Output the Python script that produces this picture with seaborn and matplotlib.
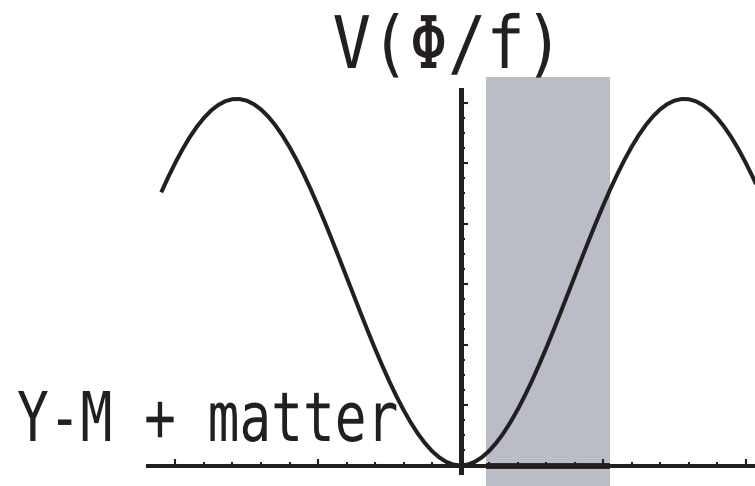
import numpy as np
import matplotlib
matplotlib.use("Agg")
import matplotlib.pyplot as plt
import seaborn as sns
from matplotlib.patheffects import AbstractPathEffect
from matplotlib.transforms import Affine2D
from matplotlib.ticker import FixedLocator, NullFormatter

# ---- data ----
phi = [-2.10, -2.05, -2.00, -1.95, -1.90, -1.85, -1.80, -1.75, -1.70, -1.65,
       -1.60, -1.55, -1.50, -1.45, -1.40, -1.35, -1.30, -1.25, -1.20, -1.15,
       -1.10, -1.05, -1.00, -0.95, -0.90, -0.85, -0.80, -0.75, -0.70, -0.65,
       -0.60, -0.55, -0.50, -0.45, -0.40, -0.35, -0.30, -0.25, -0.20, -0.15,
       -0.10, -0.05, 0.00, 0.05, 0.10, 0.15, 0.20, 0.25, 0.30, 0.35,
       0.40, 0.45, 0.50, 0.55, 0.60, 0.65, 0.70, 0.75, 0.80, 0.85,
       0.90, 0.95, 1.00, 1.05, 1.10, 1.15, 1.20, 1.25, 1.30, 1.35,
       1.40, 1.45, 1.50, 1.55, 1.60, 1.65, 1.70, 1.75, 1.80, 1.85,
       1.90, 1.95, 2.00, 2.05, 2.10, 2.15, 2.20]
V = [4.515, 4.772, 5.010, 5.230, 5.427, 5.600, 5.747, 5.868, 5.959, 6.022,
     6.055, 6.057, 6.030, 5.972, 5.885, 5.769, 5.626, 5.457, 5.264, 5.049,
     4.813, 4.560, 4.291, 4.010, 3.718, 3.420, 3.118, 2.816, 2.515, 2.219,
     1.932, 1.656, 1.393, 1.147, 0.919, 0.713, 0.529, 0.371, 0.239, 0.135,
     0.060, 0.015, 0.000, 0.015, 0.060, 0.135, 0.239, 0.371, 0.529, 0.713,
     0.919, 1.147, 1.393, 1.656, 1.932, 2.219, 2.515, 2.816, 3.118, 3.420,
     3.718, 4.010, 4.291, 4.560, 4.813, 5.049, 5.264, 5.457, 5.626, 5.769,
     5.885, 5.972, 6.030, 6.057, 6.055, 6.022, 5.959, 5.868, 5.747, 5.600,
     5.427, 5.230, 5.010, 4.772, 4.515, 4.244, 3.961]
band_lo, band_hi = 0.177, 1.049
band_top = 6.42
title_text = "V(Φ/f)"
label_text = "Y-M + matter"

INK = "#231f20"
BAND = "#babdc5"


class VStretch(AbstractPathEffect):
    """Stretch glyphs vertically about the baseline (condensed look)."""
    def __init__(self, sy):
        super().__init__()
        self.sy = sy

    def draw_path(self, renderer, gc, tpath, affine, rgbFace=None):
        renderer.draw_path(gc, tpath, Affine2D().scale(1.0, self.sy) + affine, rgbFace)


sns.set_theme(style="white")
plt.rcParams["font.family"] = ["DejaVu Sans Mono", "DejaVu Sans"]

fig = plt.figure(figsize=(7.55, 4.86), dpi=100)
ax = fig.add_axes([0, 0, 1, 1])
ax.set_facecolor("none")

# axis scaling (px: x = 460.5 + 142.5*u ; y = 465.5 - 60.5*v)
ax.set_xlim(-460.5 / 142.5, (755 - 460.5) / 142.5)
ax.set_ylim(-20.5 / 60.5, 465.5 / 60.5)

# shaded band
ax.fill_betweenx([-1.0, band_top], band_lo, band_hi, color=BAND, lw=0, zorder=0.5)

# curve
sns.lineplot(x=phi, y=V, ax=ax, color=INK, lw=2.9, zorder=3, sort=False,
             solid_joinstyle="round", solid_capstyle="butt")

# thick axis segment inside the band
ax.plot([band_lo, band_hi], [0, 0], color=INK, lw=4.2, solid_capstyle="butt", zorder=2.7)

# axes through the origin
for s in ("top", "right"):
    ax.spines[s].set_visible(False)
ax.spines["left"].set_position(("data", 0))
ax.spines["bottom"].set_position(("data", 0))
ax.spines["left"].set_bounds(-0.10, 6.21)
ax.spines["bottom"].set_bounds(-2.19, 3.0)
ax.spines["left"].set_linewidth(3.6)
ax.spines["bottom"].set_linewidth(2.9)
ax.spines["left"].set_color(INK)
ax.spines["bottom"].set_color(INK)
ax.spines["left"].set_zorder(2.6)
ax.spines["bottom"].set_zorder(2.6)

xmaj = [-2, -1, 0, 1, 2]
xmin = [round(v, 1) for v in np.arange(-1.8, 2.01, 0.2) if abs(v - round(v)) > 1e-6]
ymaj = [1, 2, 3, 4, 5, 6]
ymin = [v for v in np.arange(0.25, 6.0, 0.25) if abs(v - round(v)) > 1e-6]
ax.xaxis.set_major_locator(FixedLocator(xmaj))
ax.xaxis.set_minor_locator(FixedLocator(xmin))
ax.yaxis.set_major_locator(FixedLocator(ymaj))
ax.yaxis.set_minor_locator(FixedLocator(ymin))
ax.xaxis.set_major_formatter(NullFormatter())
ax.yaxis.set_major_formatter(NullFormatter())
ax.tick_params(axis="x", which="major", direction="in", length=5.0, width=1.5,
               color=INK, bottom=True, top=False, labelbottom=False)
ax.tick_params(axis="x", which="minor", direction="in", length=2.9, width=1.5,
               color=INK, bottom=True, top=False)
ax.tick_params(axis="y", which="major", direction="in", length=4.7, width=1.5,
               color=INK, left=True, right=False, labelleft=False)
ax.tick_params(axis="y", which="minor", direction="in", length=3.2, width=1.5,
               color=INK, left=True, right=False)
ax.grid(False)

# texts
fig.text(448 / 755, 1 - 68 / 486, title_text, ha="center", va="baseline",
         fontsize=46, color=INK, family=["DejaVu Sans Mono", "DejaVu Sans"],
         path_effects=[VStretch(1.135)])
fig.text(17 / 755, 1 - 441 / 486, label_text, ha="left", va="baseline",
         fontsize=38.0, color=INK, family=["DejaVu Sans Mono", "DejaVu Sans"],
         path_effects=[VStretch(1.30)])

fig.savefig("out.png", dpi=100)
